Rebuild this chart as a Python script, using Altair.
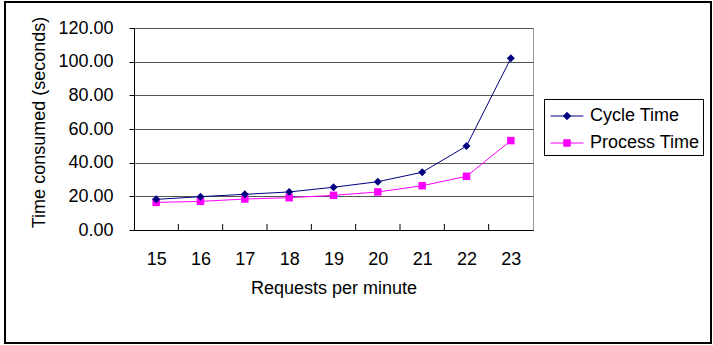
import altair as alt
import pandas as pd

requests = [15, 16, 17, 18, 19, 20, 21, 22, 23]
cycle_time = [18.2, 19.8, 21.2, 22.6, 25.4, 28.7, 34.3, 49.9, 102.0]
process_time = [16.4, 17.0, 18.4, 19.2, 20.6, 22.6, 26.3, 31.9, 53.1]
series_names = ["Cycle Time", "Process Time"]
series_colors = ["#000080", "#FF00FF"]
y_ticks = [0, 20, 40, 60, 80, 100, 120]
x_tick_bounds = [15.5, 16.5, 17.5, 18.5, 19.5, 20.5, 21.5, 22.5]

rows = []
for r, c, p in zip(requests, cycle_time, process_time):
    rows.append({"req": r, "time": c, "series": series_names[0]})
    rows.append({"req": r, "time": p, "series": series_names[1]})
df = pd.DataFrame(rows)

FONT = "Liberation Sans"
W, H = 399, 202
PL, PT = 134, 28

xscale = alt.Scale(domain=[14.5, 23.5], nice=False, zero=False)
yscale = alt.Scale(domain=[0, 120], nice=False)
cscale = alt.Scale(domain=series_names, range=series_colors)

diamond_leg = "M-1.22,0H1.22M0,-0.27L0.27,0L0,0.27L-0.27,0Z"
square_leg = "M-1.22,0H1.22M-0.24,-0.24H0.24V0.24H-0.24Z"

legend = alt.Legend(
    title=None,
    orient="none",
    legendX=544 - PL,
    legendY=99 - PT,
    padding=3,
    symbolOffset=6,
    labelOffset=9,
    symbolSize=729,
    symbolStrokeWidth=1,
    symbolOpacity=1,
    rowPadding=4,
    labelFont=FONT,
    labelFontSize=18,
    labelColor="#000000",
    strokeColor="#000000",
    fillColor="#FFFFFF",
)

x_axis = alt.Axis(
    title="Requests per minute",
    values=requests,
    ticks=False,
    tickSize=0,
    grid=False,
    labelPadding=20,
    labelBaseline="top",
    labelFont=FONT,
    labelFontSize=18,
    labelColor="#000000",
    labelFlush=False,
    labelOverlap=False,
    domainColor="#000000",
    titleFont=FONT,
    titleFontSize=18,
    titleFontWeight="normal",
    titleColor="#000000",
    titleBaseline="alphabetic",
    titleY=63,
)
y_axis = alt.Axis(
    title="Time consumed (seconds)",
    values=y_ticks,
    format=".2f",
    tickSize=5,
    tickColor="#000000",
    labelPadding=16,
    labelFont=FONT,
    labelFontSize=18,
    labelColor="#000000",
    labelOverlap=False,
    domainColor="#000000",
    grid=True,
    gridColor="#555555",
    titleFont=FONT,
    titleFontSize=18,
    titleFontWeight="normal",
    titleColor="#000000",
    titleBaseline="middle",
    titleX=-95,
    titleY=94,
)

x_enc = alt.X("req:Q", scale=xscale, axis=x_axis)
y_enc = alt.Y("time:Q", scale=yscale, axis=y_axis)

base = alt.Chart(df)


def series_layers(name, color, shape, size):
    sub = base.transform_filter(alt.datum.series == name)
    line = sub.mark_line(strokeWidth=1, color=color).encode(x=x_enc, y=y_enc)
    pts = sub.mark_point(filled=True, opacity=1, shape=shape, size=size, color=color).encode(x=x_enc, y=y_enc)
    return line, pts


l1, p1 = series_layers(series_names[0], series_colors[0], "diamond", 64)
l2, p2 = series_layers(series_names[1], series_colors[1], "square", 56)

legend_layer = base.mark_point(clip=True, strokeWidth=1).encode(
    x=alt.value(-500),
    y=alt.value(-500),
    fill=alt.Fill("series:N", scale=cscale, legend=legend),
    stroke=alt.Stroke("series:N", scale=cscale, legend=legend),
    shape=alt.Shape("series:N", scale=alt.Scale(domain=series_names, range=[diamond_leg, square_leg]), legend=legend),
)

ticks_df = pd.DataFrame({"b": x_tick_bounds})
inner_ticks = alt.Chart(ticks_df).mark_rule(color="#000000", strokeWidth=1).encode(
    x=alt.X("b:Q", scale=xscale, axis=x_axis),
    y=alt.value(H),
    y2=alt.value(H - 6),
)

border = alt.Chart(pd.DataFrame({"a": [0]})).mark_rect(
    fill=None, stroke="#000000", strokeWidth=2
).encode(
    x=alt.value(5 - PL),
    x2=alt.value(711 - PL),
    y=alt.value(2 - PT),
    y2=alt.value(343 - PT),
)

chart = (
    alt.layer(border, l2, l1, inner_ticks, p2, p1, legend_layer)
    .properties(
        width=W,
        height=H,
        autosize=alt.AutoSizeParams(type="none"),
        padding={"left": PL, "top": PT, "right": 713 - PL - W, "bottom": 345 - PT - H},
        background="#FFFFFF",
    )
    .configure_view(stroke="#999999", strokeWidth=1)
)

chart.save("out.html", embed_options={"renderer": "svg", "actions": False})
